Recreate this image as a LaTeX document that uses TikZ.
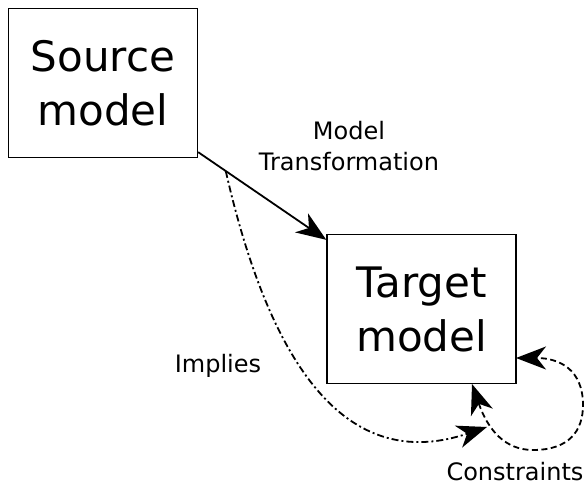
\documentclass[tikz,border=0pt]{standalone}
\usepackage{fontspec}
\setmainfont{DejaVu Sans}
\usetikzlibrary{arrows.meta}
\begin{document}
\begin{tikzpicture}[x=1pt,y=-1pt,
  modelbox/.style={draw, line width=1.4pt, minimum width=189pt, minimum height=149pt,
    inner sep=0pt, align=center, font=\fontsize{42}{54}\selectfont},
  lbl/.style={font=\fontsize{24}{31}\selectfont, align=center, inner sep=0pt},
  bighead/.tip={Stealth[length=30pt,width=23pt,inset=9pt]},
  tip/.style={-bighead},
  conn/.style={line width=1.8pt},
  dashdot/.style={dash pattern=on 7pt off 3pt on 2pt off 3pt},
  dashline/.style={dash pattern=on 6pt off 3.5pt}]
\useasboundingbox (0,0) rectangle (587,486);
\node[modelbox] (src) at (103,83) {Source\\model};
\node[modelbox] (tgt) at (421.5,309) {Target\\model};
\node[lbl] (mt) at (349,146) {Model\\Transformation};
\node[lbl, anchor=base] (imp) at (218,373) {Implies};
\node[lbl, anchor=base] (con) at (515,481) {Constraints};
\draw[conn, tip] (src.-36) -- coordinate[pos=0.215] (split) (tgt.144);
\coordinate (ie) at (487,427);
\draw[conn, dashdot, tip] (split) .. controls (262,330) and (330,480) .. (ie);
\coordinate (cs) at (472,384);
\coordinate (ce) at (516,358);
\draw[conn, dashline, bighead-bighead]
  (cs) .. controls (488,430) and (505,450) .. (533,450)
  .. controls (570,450) and (583,430) .. (583,405)
  .. controls (583,370) and (560,358) .. (ce);
\end{tikzpicture}
\end{document}
